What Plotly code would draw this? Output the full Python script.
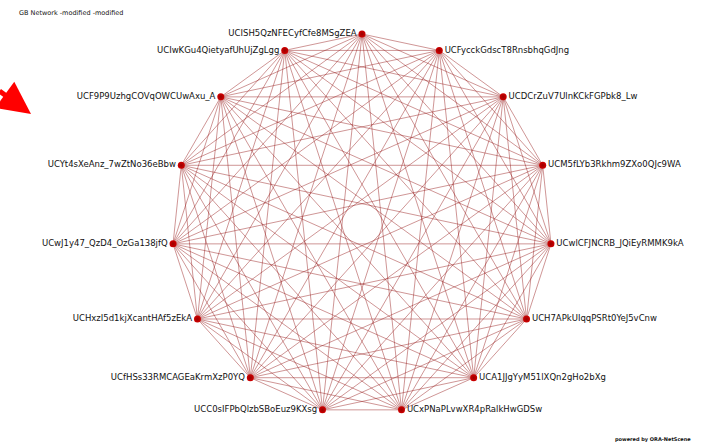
"""
GB Network: grafo completo em layout circular.
"""

import math
from itertools import combinations

import plotly.graph_objects as go

# nós, a partir do topo e no sentido horário
nodes = [
    "UCISH5QzNFECyfCfe8MSgZEA",
    "UCFycckGdscT8RnsbhqGdJng",
    "UCDCrZuV7UlnKCkFGPbk8_Lw",
    "UCM5fLYb3Rkhm9ZXo0QJc9WA",
    "UCwlCFJNCRB_JQiEyRMMK9kA",
    "UCH7APkUIqqPSRt0YeJ5vCnw",
    "UCA1JJgYyM51lXQn2gHo2bXg",
    "UCxPNaPLvwXR4pRalkHwGDSw",
    "UCC0sIFPbQlzbSBoEuz9KXsg",
    "UCfHSs33RMCAGEaKrmXzP0YQ",
    "UCHxzI5d1kjXcantHAf5zEkA",
    "UCwJ1y47_QzD4_OzGa138jfQ",
    "UCYt4sXeAnz_7wZtNo36eBbw",
    "UCF9P9UzhgCOVqOWCUwAxu_A",
    "UCIwKGu4QietyafUhUjZgLgg",
]
# todos os pares estão ligados
edges = list(combinations(range(len(nodes)), 2))

title = "GB Network -modified -modified"
footer = "powered by ORA-NetScene"

W, H = 709, 446
CX, CY, R = 362, 224, 190

n = len(nodes)
xs, ys = [], []
for i in range(n):
    a = math.radians(90 - 360.0 * i / n)
    xs.append(CX + R * math.cos(a))
    ys.append(CY - R * math.sin(a))

ex, ey = [], []
for a, b in edges:
    ex += [xs[a], xs[b], None]
    ey += [ys[a], ys[b], None]

pos = ["middle right" if 1 <= i <= n // 2 else "middle left" for i in range(n)]

fig = go.Figure()
fig.add_trace(go.Scatter(
    x=ex, y=ey, mode="lines", hoverinfo="skip",
    line=dict(color="rgba(150,25,25,0.65)", width=0.7),
))
fig.add_trace(go.Scatter(
    x=xs, y=ys, mode="markers+text", text=nodes, textposition=pos,
    textfont=dict(family="DejaVu Sans", size=8.5, color="#111"),
    marker=dict(size=7, color="#d00000",
                gradient=dict(type="radial", color="#990000")),
    hovertext=nodes, hoverinfo="text",
))

fig.add_annotation(x=17, y=13, xref="x", yref="y", text=title, showarrow=False,
                   xanchor="left", font=dict(family="DejaVu Sans", size=6.5, color="#111"))
fig.add_annotation(x=693, y=439, xref="x", yref="y", text="<b>" + footer + "</b>",
                   showarrow=False, xanchor="right",
                   font=dict(family="DejaVu Sans", size=5, color="#111"))
fig.add_annotation(x=31, y=114, ax=-2, ay=90, xref="x", yref="y", axref="x", ayref="y",
                   text="", showarrow=True, arrowhead=2, arrowsize=1.3, arrowwidth=5,
                   arrowcolor="#ff0000")

fig.update_layout(
    width=W, height=H, template="plotly_white", showlegend=False,
    margin=dict(l=0, r=0, t=0, b=0),
    paper_bgcolor="white", plot_bgcolor="white",
    xaxis=dict(range=[0, W], visible=False, fixedrange=True),
    yaxis=dict(range=[H, 0], visible=False, fixedrange=True),
)
fig.write_html("out.html", config={"displayModeBar": False},
               post_script="document.body.style.margin='0';")
